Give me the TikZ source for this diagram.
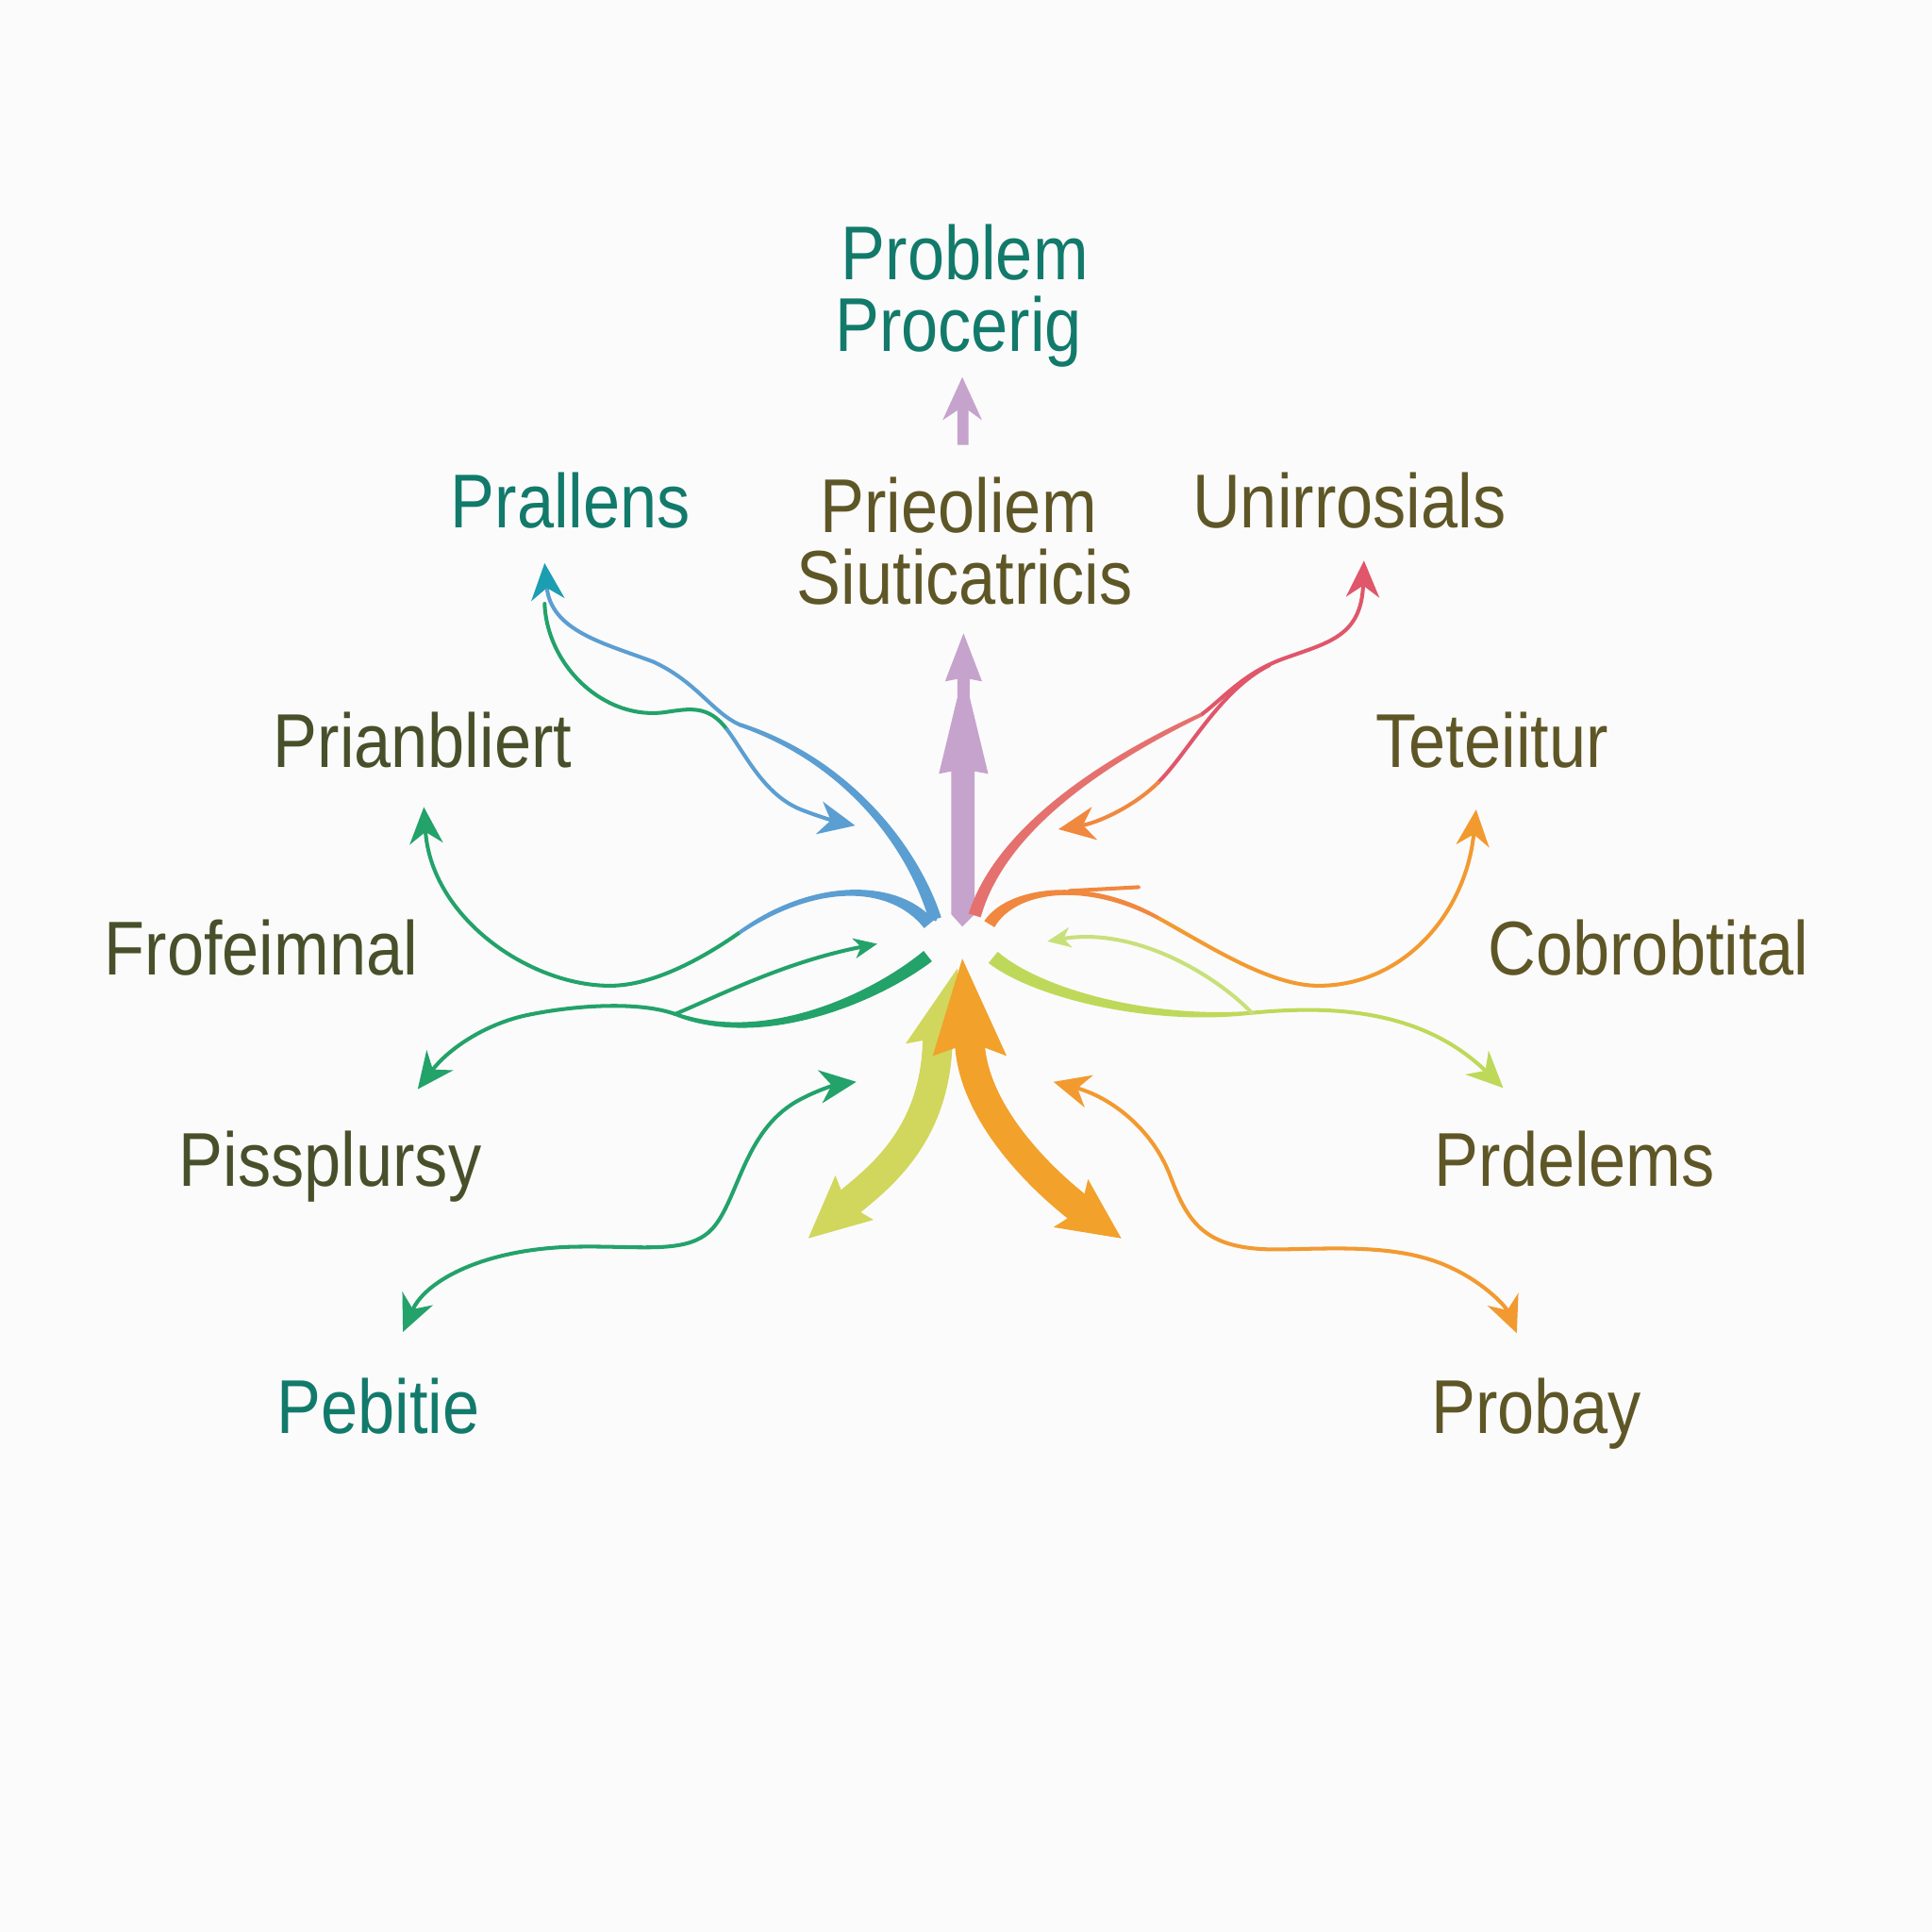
\documentclass[tikz,border=0pt]{standalone}
\usepackage{fontspec}
\setmainfont[FakeStretch=0.87]{Liberation Sans}
\usetikzlibrary{arrows.meta,calc}
\definecolor{bg}{HTML}{FBFBFB}
\definecolor{blueA}{HTML}{5B9ED2}
\definecolor{tealT}{HTML}{1B9EB2}
\definecolor{greenA}{HTML}{23A26A}
\definecolor{purp}{HTML}{C6A3CC}
\definecolor{redA}{HTML}{E0566A}
\definecolor{salmon}{HTML}{E5716E}
\definecolor{orngI}{HTML}{F0883F}
\definecolor{orngT}{HTML}{F29A30}
\definecolor{orngB}{HTML}{F2A12A}
\definecolor{ylwB}{HTML}{D0D75C}
\definecolor{lime}{HTML}{BED95A}
\definecolor{limeL}{HTML}{C8E07A}
\definecolor{tealTx}{HTML}{127A6B}
\definecolor{olive}{HTML}{5E5626}
\definecolor{dkol}{HTML}{47502A}
\tikzset{
  lbl/.style={font=\fontsize{23}{26}\selectfont, anchor=base, inner sep=0pt},
  thin/.style={line width=1.15pt, line cap=round},
  >={Stealth[length=11pt,width=10pt,inset=3.5pt]},
  sm/.style={-{Stealth[length=7pt,width=6pt,inset=2pt]}},
  broadshaft/.style={line width=9pt}
}
% tapered stroke: #1 colour, #2 start, #3 control 1, #4 control 2, #5 end, #6 half width at start (pt)
\newcommand\mytaper[6]{%
  \pgfmathsetmacro\tpa{#6}\pgfmathsetmacro\tpb{0.8*#6}\pgfmathsetmacro\tpc{0.45*#6+0.25}%
  \fill[#1] ($(#2)!\tpa pt!90:(#3)$) .. controls ($(#3)!\tpb pt!-90:(#2)$) and ($(#4)!\tpc pt!90:(#5)$) .. ($(#5)!0.55pt!-90:(#4)$) -- ($(#5)!0.55pt!90:(#4)$) .. controls ($(#4)!\tpc pt!-90:(#5)$) and ($(#3)!\tpb pt!90:(#2)$) .. ($(#2)!\tpa pt!-90:(#3)$) -- cycle;}
\begin{document}
\begin{tikzpicture}[x=0.01306cm,y=-0.01306cm]
\path[use as bounding box, fill=bg] (0,0) rectangle (1568,1568);

% ---------- labels ----------
\node[lbl, text=tealTx] (l1) at (783,227) {Problem};
\node[lbl, text=tealTx] (l2) at (778,285) {Procerig};
\node[lbl, text=olive] (l3) at (778,432) {Prieoliem};
\node[lbl, text=olive] (l4) at (783,490) {Siuticatricis};
\node[lbl, text=tealTx] (l5) at (463,428) {Prallens};
\node[lbl, text=olive] (l6) at (1095,428) {Unirrosials};
\node[lbl, text=dkol] (l7) at (343,623) {Prianbliert};
\node[lbl, text=olive] (l8) at (1211,623) {Teteiitur};
\node[lbl, text=dkol] (l9) at (212,791) {Frofeimnal};
\node[lbl, text=olive] (l10) at (1338,791) {Cobrobtital};
\node[lbl, text=dkol] (l11) at (268,963) {Pissplursy};
\node[lbl, text=olive] (l12) at (1278,963) {Prdelems};
\node[lbl, text=tealTx] (l13) at (307,1163) {Pebitie};
\node[lbl, text=olive] (l14) at (1247,1163) {Probay};

% ---------- coordinates ----------
\coordinate (cA) at (759,746);
\coordinate (tA) at (442,457);
\coordinate (tB) at (344,655);
\coordinate (tC) at (339,884);
\coordinate (tD1) at (695,878);
\coordinate (tD2) at (327,1081);
\coordinate (tJ) at (1107,455);
\coordinate (tI) at (1198,657);
\coordinate (tH) at (1220,883);
\coordinate (tG1) at (855,878);
\coordinate (tG2) at (1231,1082);
\coordinate (yTop) at (777,786);
\coordinate (yBot) at (656,1005);
\coordinate (oTop) at (781,778);
\coordinate (oBot) at (910,1005);

% ---------- small purple arrow ----------
\fill[purp] (777,361) -- (777,333) -- (765,341) -- (781,306) -- (797,341) -- (786,333) -- (786,361) -- cycle;

% ---------- big purple arrow ----------
\fill[purp] (781,752) -- (772,742) -- (772,626) -- (762,628) -- (777,566) -- (777,551) -- (767,553) -- (782,514) -- (797,553) -- (787,551) -- (787,566) -- (802,628) -- (791,626) -- (791,742) -- cycle;

% ---------- blue A (to Prallens) ----------
\draw[thin, blueA, -{Stealth[length=11pt,width=10pt,inset=3.5pt,color=tealT]}] (cA) .. controls (742,690) and (690,618) .. (600,588) .. controls (578,578) and (565,553) .. (530,537) .. controls (490,522) and (447,512) .. (tA);
\mytaper{blueA}{759,746}{742,690}{690,618}{600,588}{1.9}
\draw[thin, greenA] (442,490) .. controls (444,540) and (490,585) .. (540,578) .. controls (560,575) and (575,572) .. (590,592);
\draw[thin, blueA, ->] (590,592) .. controls (605,612) and (620,645) .. (650,657) .. controls (665,663) and (680,667) .. (694,670);

% ---------- blue/green B (to Prianbliert) ----------
\draw[thin, greenA, ->] (600,757) .. controls (570,778) and (530,800) .. (495,800) .. controls (430,800) and (350,745) .. (tB);
\mytaper{blueA}{754,750}{725,715}{660,715}{600,757}{1.9}

% ---------- green C (to Pissplursy) ----------
\draw[thin, greenA, ->] (548,823) .. controls (520,813) and (470,815) .. (427,824) .. controls (395,831) and (365,850) .. (tC);
\mytaper{greenA}{753,776}{710,810}{620,850}{548,823}{2.0}
\draw[thin, greenA, sm] (548,823) .. controls (590,805) and (640,780) .. (712,766);

% ---------- green D (double) ----------
\draw[thin, greenA, <->] (tD2) .. controls (345,1040) and (390,1015) .. (460,1012) .. controls (520,1010) and (560,1020) .. (580,995) .. controls (600,970) and (605,915) .. (650,892) .. controls (665,884) and (680,880) .. (tD1);

% ---------- red J (to Unirrosials) ----------
\draw[thin, redA, ->] (975,580) .. controls (995,565) and (1010,545) .. (1046,533) .. controls (1080,521) and (1105,515) .. (tJ);
\mytaper{salmon}{791,743}{810,680}{880,625}{975,580}{1.9}
\draw[thin, redA] (1030,540) .. controls (990,560) and (965,610) .. (940,635);
\draw[thin, orngI, ->] (940,635) .. controls (920,655) and (890,668) .. (859,673);

% ---------- orange I (to Teteiitur) ----------
\draw[thin, orngT, ->] (940,745) .. controls (980,767) and (1030,800) .. (1070,800) .. controls (1140,800) and (1190,740) .. (tI);
\mytaper{orngI}{803,750}{820,722}{880,712}{940,745}{1.8}
\draw[thin, orngI] (868,723) -- (924,720);

% ---------- lime H (to Prdelems) ----------
\draw[thin, lime, ->] (1016,822) .. controls (1070,817) and (1150,815) .. (tH);
\mytaper{lime}{806,777}{840,805}{930,830}{1016,822}{2.2}
\draw[thin, limeL, sm] (1016,822) .. controls (985,790) and (920,752) .. (850,764);

% ---------- orange G (double) ----------
\draw[thin, orngT, <->] (tG1) .. controls (900,890) and (935,915) .. (950,955) .. controls (965,995) and (980,1015) .. (1040,1014) .. controls (1090,1013) and (1140,1010) .. (1180,1030) .. controls (1205,1042) and (1222,1060) .. (tG2);

% ---------- broad yellow double arrow ----------
\draw[broadshaft, ylwB] (761,842) .. controls (760,930) and (703,963) .. (677,986);
\fill[ylwB] (yTop) -- (786,858) -- (762,842) -- (735,847) -- cycle;
\fill[ylwB] (yBot) -- (678,954) -- (687,977) -- (709,990) -- cycle;

% ---------- broad orange double arrow ----------
\draw[broadshaft, orngB] (787,846) .. controls (790,910) and (858,969) .. (887,989);
\fill[orngB] (oTop) -- (817,857) -- (788,846) -- (757,857) -- cycle;
\fill[orngB] (oBot) -- (883,957) -- (877,982) -- (855,996) -- cycle;
\end{tikzpicture}
\end{document}
